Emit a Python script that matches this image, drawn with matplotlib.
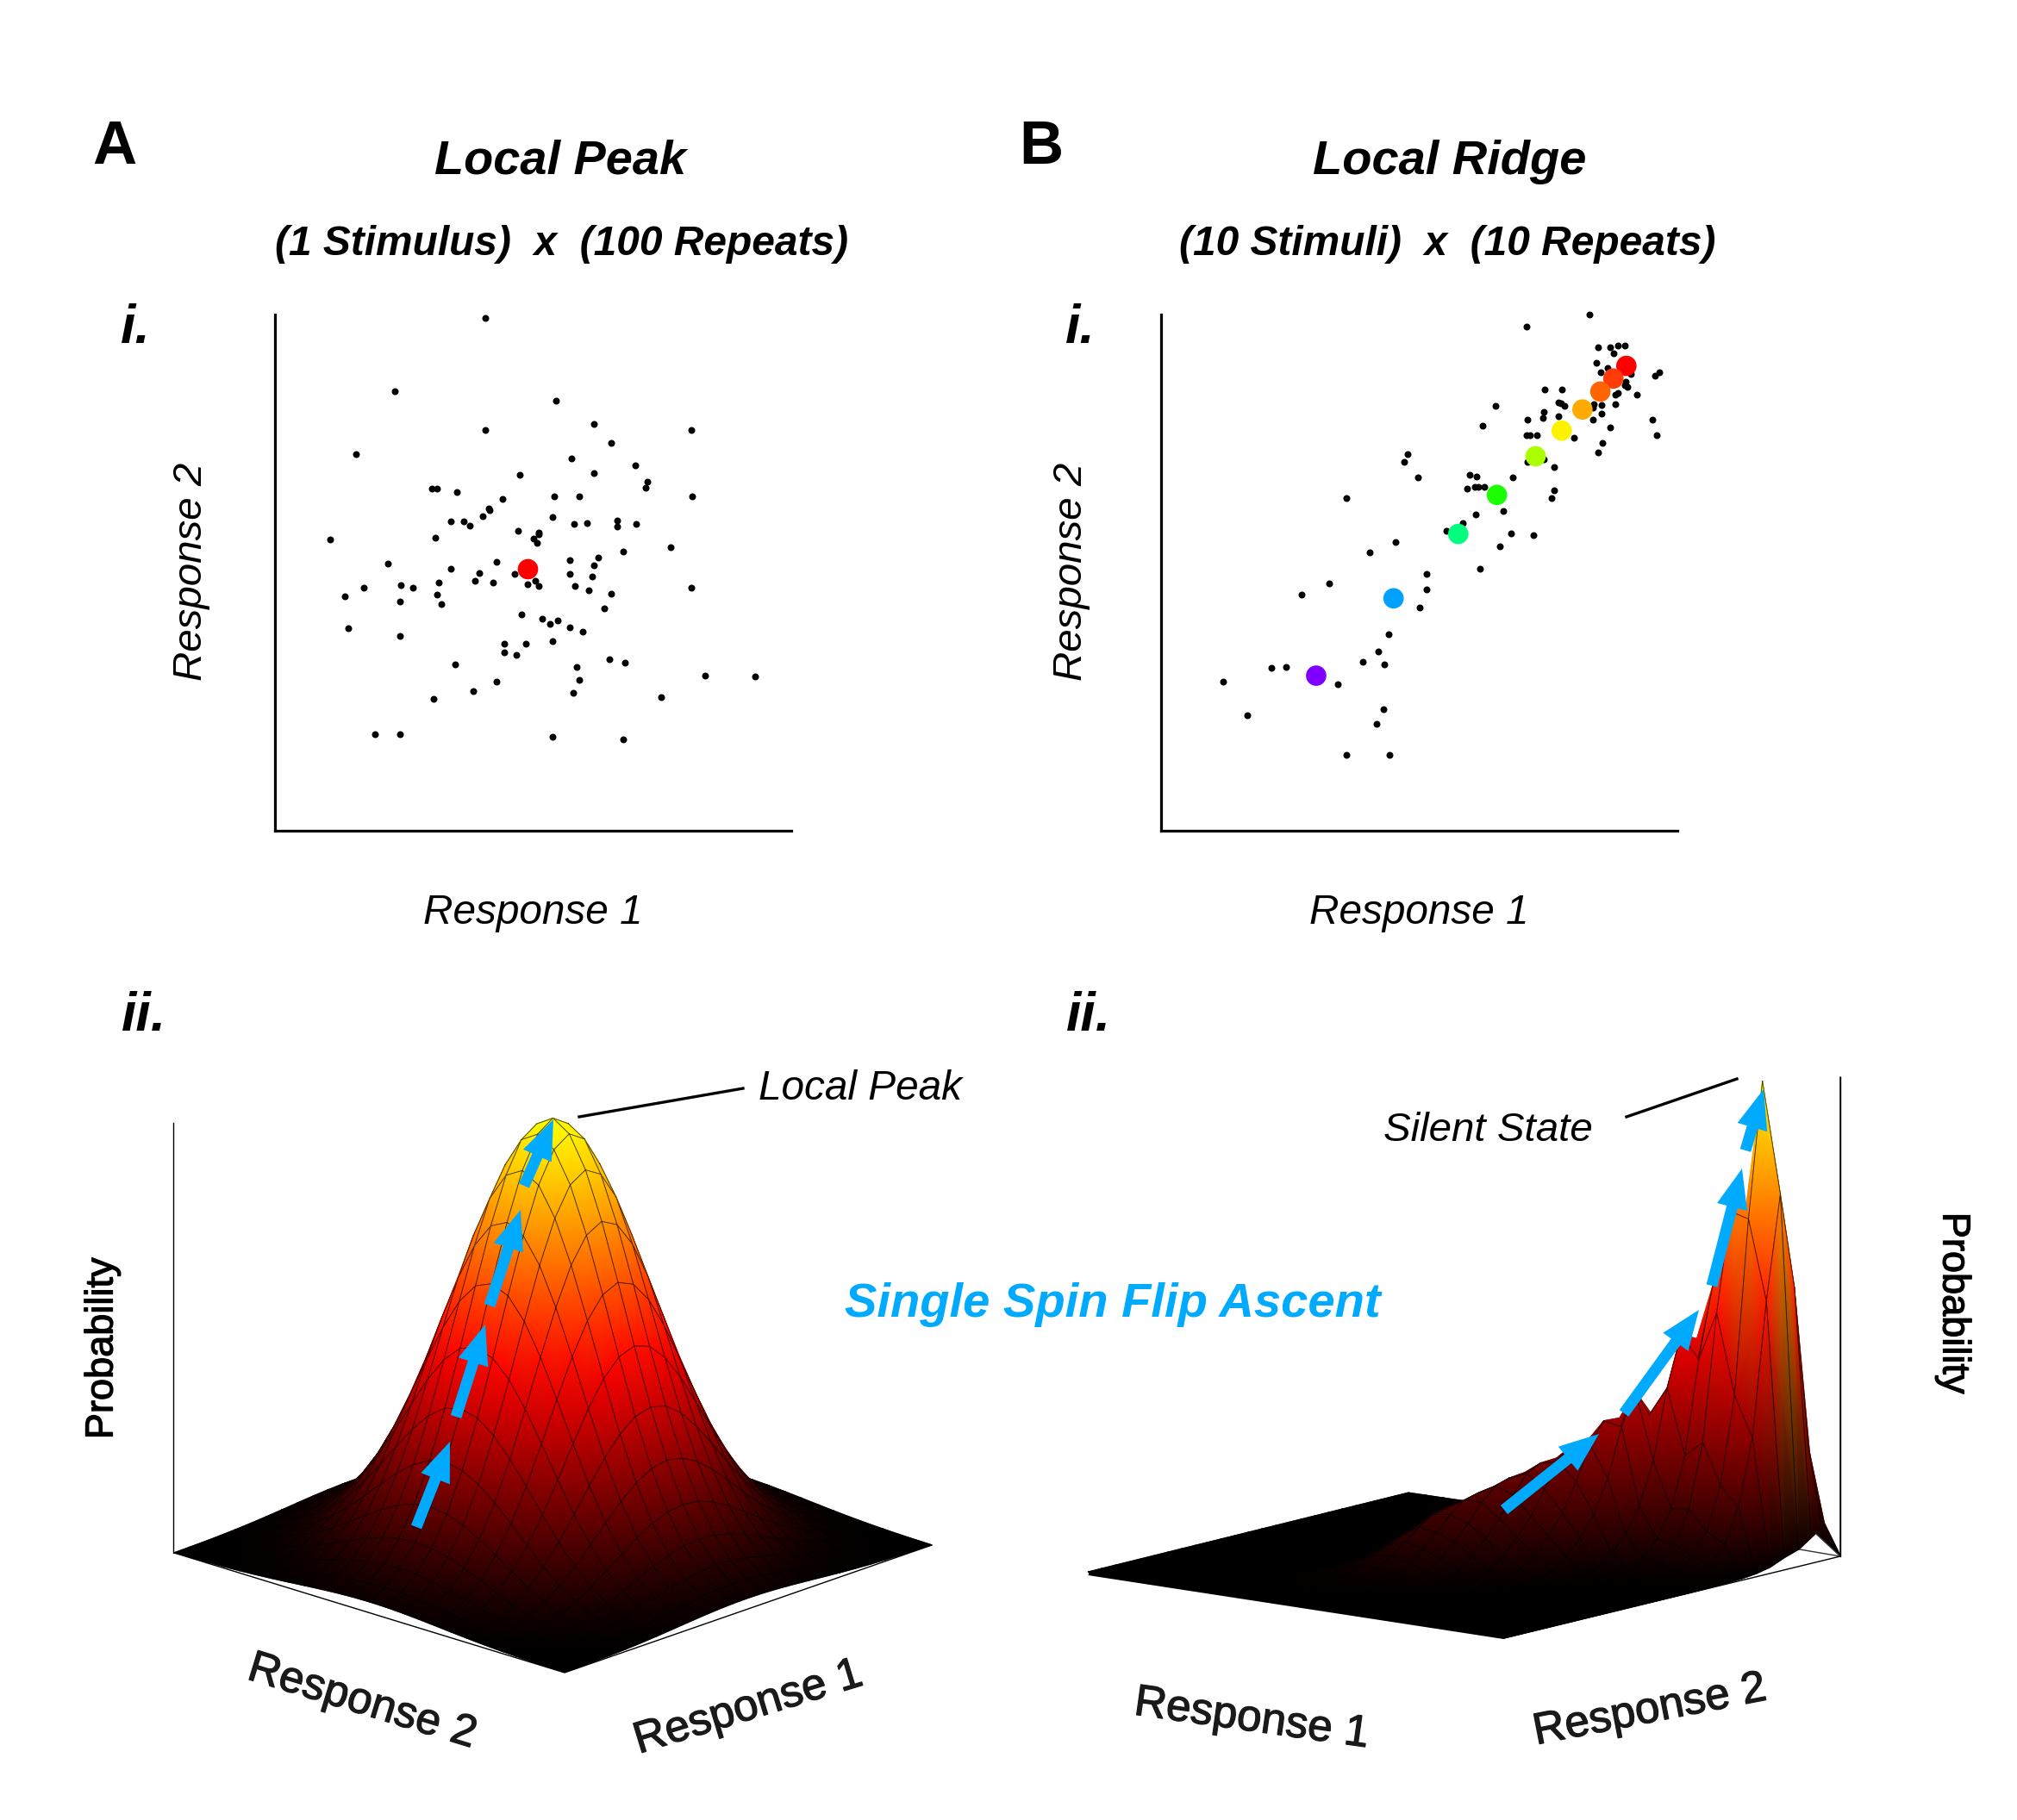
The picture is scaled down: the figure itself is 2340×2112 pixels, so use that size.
import numpy as np
import matplotlib
matplotlib.use('Agg')
import matplotlib.pyplot as plt
import matplotlib.patheffects as pe
from matplotlib.colors import LinearSegmentedColormap
from matplotlib.patches import FancyArrow, Polygon

plt.rcParams['font.family'] = ['Liberation Sans', 'DejaVu Sans']

# panel A scatter (axis length = 1468 units)
peak_r1 = [599, 340, 798, 599, 906, 1183, 955, 230, 842, 1024, 695, 908, 1058, 1055, 446, 460, 516, 646, 795, 866,
           1185, 607, 610, 590, 788, 501, 536, 553, 851, 886, 972, 972, 1026, 692, 749, 751, 734, 744, 455, 158,
           1124, 989, 920, 839, 906, 631, 320, 499, 580, 682, 837, 901, 568, 619, 465, 739, 717, 751, 854, 359,
           252, 391, 198, 1183, 893, 957, 460, 355, 472, 935, 700, 759, 781, 805, 837, 876, 208, 355, 653, 712,
           788, 651, 685, 952, 994, 511, 857, 631, 864, 1222, 1366, 563, 849, 452, 1097, 284, 355, 788, 991]
peak_r2 = [1457, 1249, 1222, 1139, 1156, 1139, 1104, 1070, 1058, 1038, 1011, 1016, 992, 975, 973, 973, 962, 943, 950, 950,
           950, 916, 911, 894, 891, 879, 879, 867, 872, 874, 882, 864, 872, 852, 847, 842, 830, 818, 833, 828,
           806, 793, 776, 769, 754, 764, 759, 744, 734, 730, 730, 722, 710, 707, 707, 710, 700, 695, 695, 698,
           690, 690, 666, 690, 683, 673, 671, 651, 644, 632, 615, 602, 587, 597, 578, 565, 575, 553, 531, 531,
           538, 507, 499, 487, 477, 472, 465, 423, 428, 440, 438, 398, 391, 376, 379, 274, 274, 266, 261]
peak_mean_r1 = [719]
peak_mean_r2 = [744]

# panel B scatter
ridge_r1 = [1217, 1038, 1242, 1278, 1298, 1318, 1286, 1237, 1269, 1249, 1336, 1416, 1405, 1320, 1318, 1326, 1090, 1139, 1298, 1291,
            1354, 952, 1131, 1137, 1146, 1230, 1228, 1252, 1291, 1088, 1085, 1041, 1131, 1252, 1227, 1396, 913, 1278, 1409, 1039,
            1050, 1068, 1173, 1254, 1242, 702, 690, 1042, 1089, 1117, 731, 877, 898, 999, 891, 903, 920, 871, 1117, 526,
            1109, 972, 894, 857, 810, 996, 1058, 666, 962, 592, 908, 756, 477, 756, 399, 735, 646, 617, 573, 634,
            313, 355, 502, 176, 632, 245, 612, 526, 649]
ridge_r2 = [1467, 1433, 1376, 1374, 1379, 1379, 1357, 1330, 1315, 1303, 1299, 1303, 1295, 1276, 1266, 1261, 1256, 1254, 1244, 1241,
            1241, 1207, 1217, 1216, 1207, 1212, 1203, 1210, 1212, 1190, 1175, 1170, 1178, 1185, 1170, 1170, 1151, 1146, 1126, 1124,
            1124, 1124, 1117, 1104, 1075, 1070, 1050, 1050, 1056, 1033, 1006, 1013, 1008, 1006, 979, 977, 979, 972, 967, 947,
            947, 910, 899, 874, 852, 845, 840, 820, 808, 791, 744, 730, 703, 685, 671, 634, 558, 509, 480, 472,
            462, 465, 416, 423, 345, 328, 303, 215, 215]
ridge_mean_r1 = [1323, 1286, 1249, 1198, 1139, 1065, 955, 845, 661, 441]
ridge_mean_r2 = [1322, 1286, 1249, 1198, 1138, 1065, 955, 844, 661, 441]
ridge_mean_colors = ['#ff0000', '#ff3b0a', '#ff6400', '#ffaa00', '#fff200', '#aaff00', '#1cff00', '#00ff7f', '#00a0ff', '#8000ff']

# height profile through the local peak, 25 mesh lines
peak_profile = [.025, .046, .078, .127, .196, .287, .399, .529, .665, .795, .903, .975, 1.0,
                .975, .903, .795, .665, .529, .399, .287, .196, .127, .078, .046, .025]

# ridge: height on each column of the mesh, the row where it tops out, and fall off away from that row
ridge_heights = [0, 0, 0, 0, 0, 0, 0, 0, .008, .02, .04, .08, .125, .155, .185, .215, .25, .30, .36, .47, .57, .73, 1.0, .77, .035]
ridge_rows = [24, 24, 23, 22, 21, 20, 19, 18, 17, 16, 15, 14, 13, 12, 11, 10, 9, 8, 7, 5, 4, 4, 3, 3, 3]
fall_front = [1, .72, .36, .18, .09, .045, .02, .01, 0, 0, 0, 0, 0, 0, 0, 0, 0, 0, 0, 0, 0, 0, 0, 0, 0]
fall_back = [1, .74, .3, .05, .01, 0, 0, 0, 0, 0, 0, 0, 0, 0, 0, 0, 0, 0, 0, 0, 0, 0, 0, 0, 0]
# wider fall off on the low end of the ridge, with how much of it each column takes
fall_front_low = [1, .95, .8, .6, .43, .28, .17, .09, .05, .02, .01, 0, 0, 0, 0, 0, 0, 0, 0, 0, 0, 0, 0, 0, 0]
fall_back_low = [1, 1, .92, .72, .5, .3, .14, .05, .01, 0, 0, 0, 0, 0, 0, 0, 0, 0, 0, 0, 0, 0, 0, 0, 0]
low_share = [1, 1, 1, 1, 1, 1, 1, 1, 1, 1, 1, 1, 1, 1, 1, .9, .75, .6, .4, .25, .1, 0, 0, 0, 0]

CYAN = '#00aaff'
hot = LinearSegmentedColormap.from_list('hotish', ['#000000', '#ff0000', '#ffff00'])


def scatter_panel(fig, left, xs, ys, mx, my, colors):
    """Response 1 vs response 2 axes with small dots and big mean dots."""
    ax = fig.add_axes([left / 2340, 1 - 964 / 2112, 599 / 2340, 599 / 2112])
    ax.scatter(xs, ys, s=33, c='k', linewidths=0, zorder=2, clip_on=False)
    ax.scatter(mx, my, s=290, c=colors, linewidths=0, zorder=3, clip_on=False)
    ax.set_xlim(0, 1468)
    ax.set_ylim(0, 1468)
    ax.set_xticks([])
    ax.set_yticks([])
    ax.spines['top'].set_visible(False)
    ax.spines['right'].set_visible(False)
    ax.spines['left'].set_linewidth(2.3)
    ax.spines['bottom'].set_linewidth(2.3)
    ax.patch.set_alpha(0)
    return ax


def draw_surface(ax, z, back, right, left, front, height):
    """Paint the mesh cell by cell from the back corner to the front one."""
    n, m = z.shape
    v, u = np.meshgrid(np.linspace(0, 1, n), np.linspace(0, 1, m), indexing='ij')
    px = ((1 - u) * (1 - v))[..., None] * back + (u * (1 - v))[..., None] * right \
        + ((1 - u) * v)[..., None] * left + (u * v)[..., None] * front
    xx = px[..., 0]
    yy = px[..., 1] - z * height
    for i in range(n - 1):
        for j in range(m - 1):
            ax.pcolormesh(xx[i:i + 2, j:j + 2], yy[i:i + 2, j:j + 2], z[i:i + 2, j:j + 2],
                          shading='gouraud', cmap=hot, vmin=0, vmax=1, zorder=2)
            ring_x = [xx[i, j], xx[i, j + 1], xx[i + 1, j + 1], xx[i + 1, j], xx[i, j]]
            ring_y = [yy[i, j], yy[i, j + 1], yy[i + 1, j + 1], yy[i + 1, j], yy[i, j]]
            ax.plot(ring_x, ring_y, color='k', lw=0.6, alpha=0.75, zorder=2)


def arrow(ax, start, tip):
    ax.add_patch(FancyArrow(start[0], start[1], tip[0] - start[0], tip[1] - start[1], width=13, head_width=36,
                            head_length=46, length_includes_head=True, color=CYAN, lw=0, zorder=5))


fig = plt.figure(figsize=(23.4, 21.12), dpi=100, facecolor='white')

canvas = fig.add_axes([0, 0, 1, 1])
canvas.set_xlim(0, 2340)
canvas.set_ylim(2112, 0)
canvas.axis('off')

scatter_panel(fig, 319, peak_r1, peak_r2, peak_mean_r1, peak_mean_r2, ['#ff0000'])
scatter_panel(fig, 1347, ridge_r1, ridge_r2, ridge_mean_r1, ridge_mean_r2, ridge_mean_colors)

# local peak surface
peak_z = np.outer(peak_profile, peak_profile)
canvas.plot([202, 655, 1081], [1802, 1941, 1793], color='k', lw=1, zorder=1)
canvas.plot([201, 201], [1303, 1802], color='k', lw=1, zorder=1)
draw_surface(canvas, peak_z, np.array([628., 1654.]), np.array([1081., 1793.]), np.array([202., 1802.]),
             np.array([655., 1941.]), 500)

# local ridge surface
ridge_z = np.zeros((25, 25))
for j in range(25):
    for i in range(25):
        k = abs(i - ridge_rows[j])
        if i > ridge_rows[j]:
            fall = low_share[j] * fall_front_low[k] + (1 - low_share[j]) * fall_front[k]
        else:
            fall = low_share[j] * fall_back_low[k] + (1 - low_share[j]) * fall_back[k]
        ridge_z[i, j] = ridge_heights[j] * fall
canvas.plot([2135, 2135], [1250, 1806], color='k', lw=1, zorder=1)
draw_surface(canvas, ridge_z, np.array([1634., 1732.]), np.array([2135., 1806.]), np.array([1262., 1824.]),
             np.array([1745., 1901.]), 557)
canvas.add_patch(Polygon([(2062, 1824), (2080, 1810), (2088, 1798), (2107, 1780), (2135, 1806)],
                         closed=True, fc='white', ec='none', zorder=3))
canvas.plot([2107, 2135, 2088], [1780, 1806, 1798], color='#333333', lw=1, zorder=3)
canvas.plot([1745, 2135, 2135], [1901, 1806, 1250], color='k', lw=1, zorder=3)
canvas.plot([1263, 1745], [1826, 1900], color='k', lw=3, zorder=3, solid_capstyle='butt')

for s, t in [((483, 1772), (522, 1673)), ((529, 1644), (563, 1537)), ((568, 1515), (604, 1404)), ((608, 1376), (642, 1299)),
             ((1745, 1752), (1855, 1664)), ((1884, 1640), (1971, 1520)), ((1986, 1492), (2021, 1356)), ((2025, 1335), (2046, 1264))]:
    arrow(canvas, s, t)

canvas.plot([672, 862], [1296, 1263], color='k', lw=2.4, zorder=4)
canvas.plot([1887, 2015], [1296, 1252], color='k', lw=2.4, zorder=4)


def label(x, y, s, size, heavy=False, **kw):
    t = canvas.text(x, y, s, fontsize=size, ha='center', va='center', zorder=6, **kw)
    if heavy:
        t.set_path_effects([pe.withStroke(linewidth=0.9, foreground=kw.get('color', 'k'))])


bi = dict(fontweight='bold', fontstyle='italic')
label(133, 172, 'A', 51, fontweight='bold')
label(1208, 172, 'B', 51, fontweight='bold')
label(650, 188, 'Local Peak', 40.2, **bi)
label(1682, 188, 'Local Ridge', 40.3, **bi)
label(652, 283, '(1 Stimulus)  x  (100 Repeats)', 34.5, **bi)
label(1679, 283, '(10 Stimuli)  x  (10 Repeats)', 34.5, **bi)
label(157, 382, 'i.', 45, **bi)
label(1253, 382, 'i.', 45, **bi)
label(167, 1180, 'ii.', 45, **bi)
label(1263, 1180, 'ii.', 45, **bi)
label(222, 663, 'Response 2', 34.2, fontstyle='italic', rotation=90)
label(1243, 663, 'Response 2', 34.2, fontstyle='italic', rotation=90)
label(618, 1059, 'Response 1', 34.4, fontstyle='italic')
label(1646, 1059, 'Response 1', 34.4, fontstyle='italic')
label(998, 1264, 'Local Peak', 34.4, fontstyle='italic')
label(1726, 1312, 'Silent State', 34.2, fontstyle='italic')
label(1291, 1514, 'Single Spin Flip Ascent', 40.4, color=CYAN, **bi)
label(119, 1565, 'Probability', 32.5, heavy=True, rotation=90)
label(2266, 1512, 'Probability', 32.5, heavy=True, rotation=270)
label(420, 1975, 'Response 2', 37, heavy=True, rotation=-17, color='#1a1a1a')
label(868, 1982, 'Response 1', 37, heavy=True, rotation=17, color='#1a1a1a')
label(1452, 1995, 'Response 1', 37, heavy=True, rotation=-8, color='#1a1a1a')
label(1914, 1985, 'Response 2', 37, heavy=True, rotation=11, color='#1a1a1a')

fig.savefig('out.png', dpi=100, facecolor='white')
